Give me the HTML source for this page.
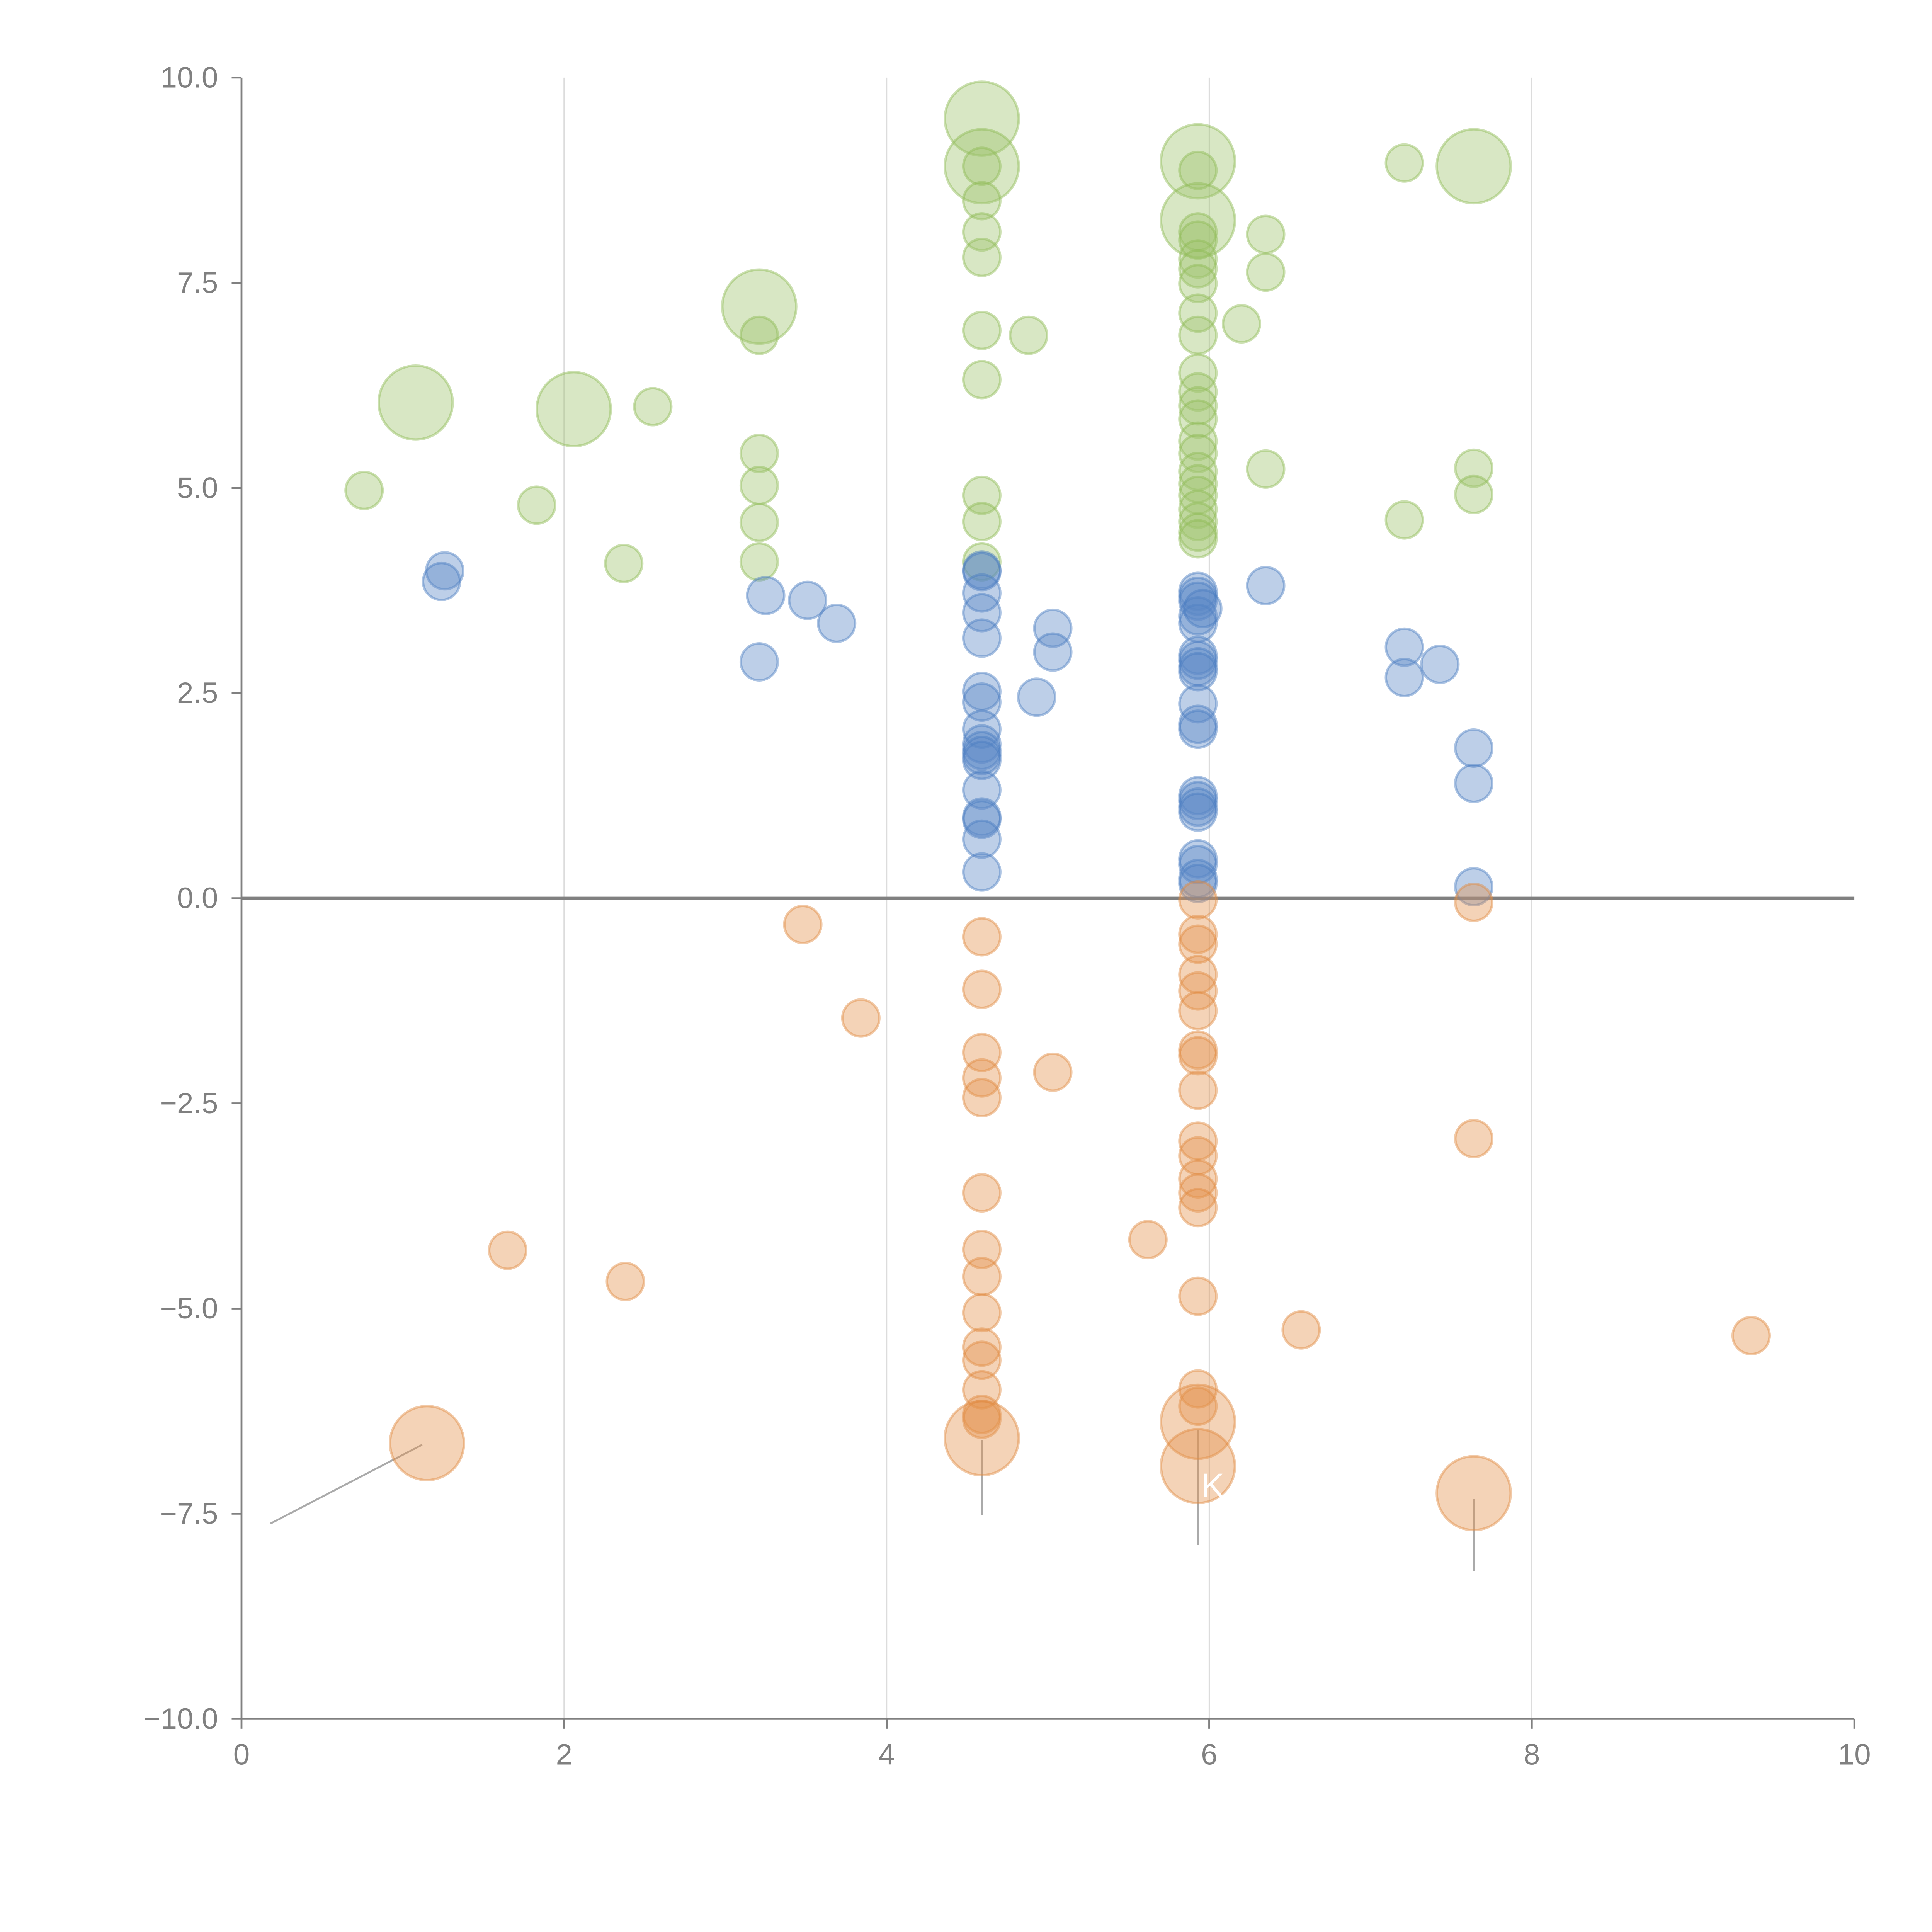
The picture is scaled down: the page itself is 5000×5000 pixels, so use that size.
<!DOCTYPE html>
<html><head><meta charset="utf-8"><style>
html,body{margin:0;padding:0;background:#fff;}
svg{display:block;}
text{font-family:"Liberation Sans",sans-serif;fill:#808080;}
</style></head><body>
<svg id="chart" width="5000" height="5000" viewBox="0 0 1568 1568" xmlns="http://www.w3.org/2000/svg">
<g id="grid"></g>
<g id="axes"></g>
<g id="leaders"></g>
<g id="marks"></g>
</svg>
<script>
const xTicks = [0,2,4,6,8,10];
const yTicks = [10,7.5,5,2.5,0,-2.5,-5,-7.5,-10];
const yTickLabels = ["10.0","7.5","5.0","2.5","0.0","\u22122.5","\u22125.0","\u22127.5","\u221210.0"];

const greenX = [0.76,1.08,1.83,2.06,2.37,2.55,3.21,3.21,3.21,3.21,3.21,3.21,
 4.59,4.59,4.59,4.59,4.59,4.59,4.59,4.59,4.59,4.59,4.59,4.88,
 5.93,5.93,5.93,5.93,5.93,5.93,5.93,5.93,5.93,5.93,5.93,5.93,5.93,5.93,5.93,5.93,5.93,5.93,5.93,5.93,5.93,5.93,5.93,
 6.20,6.35,6.35,6.35,7.21,7.21,7.64,7.64,7.64];
const greenY = [4.97,6.04,4.79,5.96,4.08,5.99,7.21,6.86,5.42,5.03,4.58,4.10,
 9.5,8.92,8.92,8.5,8.12,7.81,6.92,6.32,4.91,4.59,4.10,6.86,
 8.98,8.87,8.26,8.12,8.02,7.79,7.67,7.49,7.13,6.86,6.40,6.17,6.0,5.84,5.57,5.42,5.20,5.05,4.91,4.74,4.59,4.46,4.38,
 7.0,8.09,7.63,5.23,8.96,4.61,8.92,5.24,4.92];
const greenS = [1,4,1,4,1,1,4,1,1,1,1,1,
 4,4,1,1,1,1,1,1,1,1,1,1,
 4,1,4,1,1,1,1,1,1,1,1,1,1,1,1,1,1,1,1,1,1,1,1,
 1,1,1,1,1,1,4,1,1];

const blueX = [1.26,1.24,3.21,3.25,3.51,3.69,
 4.59,4.59,4.59,4.59,4.59,4.59,4.59,4.59,4.59,4.59,4.59,4.59,4.59,4.59,4.59,4.59,4.59,
 4.93,5.03,5.03,
 5.93,5.93,5.93,5.93,5.93,5.93,5.93,5.93,5.93,5.93,5.93,5.93,5.93,5.93,5.93,5.93,5.93,5.93,5.93,5.93,5.96,
 6.35,7.21,7.21,7.43,7.64,7.64,7.64];
const blueY = [3.99,3.86,2.88,3.69,3.63,3.35,
 4.0,3.98,3.72,3.48,3.17,2.52,2.39,2.06,1.88,1.80,1.74,1.68,1.32,0.99,0.96,0.72,0.32,
 2.45,3.29,3.0,
 3.74,3.68,3.62,3.44,3.35,2.96,2.90,2.82,2.76,2.37,2.12,2.06,1.25,1.19,1.11,1.05,0.48,0.41,0.24,0.18,3.53,
 3.81,3.06,2.69,2.85,1.83,1.40,0.14];

const orangeX = [1.15,1.65,2.38,3.48,3.84,
 4.59,4.59,4.59,4.59,4.59,4.59,4.59,4.59,4.59,4.59,4.59,4.59,4.59,4.59,4.59,
 5.03,5.62,
 5.93,5.93,5.93,5.93,5.93,5.93,5.93,5.93,5.93,5.93,5.93,5.93,5.93,5.93,5.93,5.93,5.93,5.93,5.93,
 6.57,7.64,7.64,7.64,9.36];
const orangeY = [-6.64,-4.29,-4.67,-0.32,-1.46,
 -0.47,-1.11,-1.88,-2.19,-2.43,-3.59,-4.28,-4.61,-5.05,-5.47,-5.63,-5.99,-6.29,-6.35,-6.58,
 -2.12,-4.16,
 -0.02,-0.44,-0.56,-0.93,-1.13,-1.37,-1.85,-1.92,-2.34,-2.96,-3.14,-3.42,-3.59,-3.77,-4.85,-5.98,-6.19,-6.38,-6.92,
 -5.26,-2.93,-0.05,-7.25,-5.33];
const orangeS = [4,1,1,1,1,
 1,1,1,1,1,1,1,1,1,1,1,1,1,1,4,
 1,1,
 1,1,1,1,1,1,1,1,1,1,1,1,1,1,1,1,1,4,4,
 1,1,1,4,1];

const leaderX1 = [0.18,4.59,5.93,7.64];
const leaderY1 = [-7.62,-7.52,-7.88,-8.2];
const leaderX2 = [1.12,4.59,5.93,7.64];
const leaderY2 = [-6.66,-6.6,-6.48,-7.32];

const L=196,R=1505,T=63,B=1395;
const sx = v => L + (v-0)/(10-0)*(R-L);
const sy = v => B - (v+10)/20*(B-T);
const rad = s => 15*Math.sqrt(s);
const NS="http://www.w3.org/2000/svg";
function mk(tag, parent, attrs){const e=document.createElementNS(NS,tag);for(const k in attrs)e.setAttribute(k,attrs[k]);parent.appendChild(e);return e;}

const grid=document.getElementById('grid'), axes=document.getElementById('axes'), marks=document.getElementById('marks'), leaders=document.getElementById('leaders');

xTicks.forEach(t=>{
  if(t>0&&t<10){const g=mk('line',grid,{x1:sx(t),x2:sx(t),y1:T,y2:B,stroke:'#dcdcdc','stroke-width':1});
  
  }
  const tk=mk('line',axes,{x1:sx(t),x2:sx(t),y1:B,y2:B+8,stroke:'#808080','stroke-width':1.5});
  
  
  const tx=mk('text',axes,{x:sx(t),y:B+37,'text-anchor':'middle','font-size':24});
  tx.textContent=String(t);
  
  
});
yTicks.forEach((t,i)=>{
  const tk=mk('line',axes,{x1:L-8,x2:L,y1:sy(t),y2:sy(t),stroke:'#808080','stroke-width':1.5});
  
  
  const tx=mk('text',axes,{x:L-19,y:sy(t)+8,'text-anchor':'end','font-size':24});
  tx.textContent=yTickLabels[i];
  
  
});
const ya=mk('line',axes,{x1:L,x2:L,y1:T,y2:B,stroke:'#808080','stroke-width':1.5});


const xa=mk('line',axes,{x1:L,x2:R,y1:B,y2:B,stroke:'#808080','stroke-width':1.5});


const zl=mk('line',axes,{x1:L,x2:R,y1:sy(0),y2:sy(0),stroke:'#808080','stroke-width':2.5});



function series(xs,ys,ss,fill,stroke,name){
  xs.forEach((x,i)=>{
    const c=mk('circle',marks,{cx:sx(x),cy:sy(ys[i]),r:rad(ss?ss[i]:1),fill:fill,'fill-opacity':0.4,stroke:stroke,'stroke-opacity':0.45,'stroke-width':2});
    
    
  });
}
series(greenX,greenY,greenS,'#9dc26b','#8fbb55','bubble-green');
series(blueX,blueY,null,'#5b86c5','#4a7cc2','bubble-blue');
series(orangeX,orangeY,orangeS,'#e3904c','#e08a40','bubble-orange');

leaderX1.forEach((x,i)=>{
  const l=mk('line',leaders,{x1:sx(x),y1:sy(leaderY1[i]),x2:sx(leaderX2[i]),y2:sy(leaderY2[i]),stroke:'#aaaaaa','stroke-width':1.5});
  
  
});
const k=mk('text',marks,{x:sx(5.95),y:sy(-7.3),'font-size':28});
k.textContent='K';
k.style.fill='#ffffff';


</script>
</body></html>
